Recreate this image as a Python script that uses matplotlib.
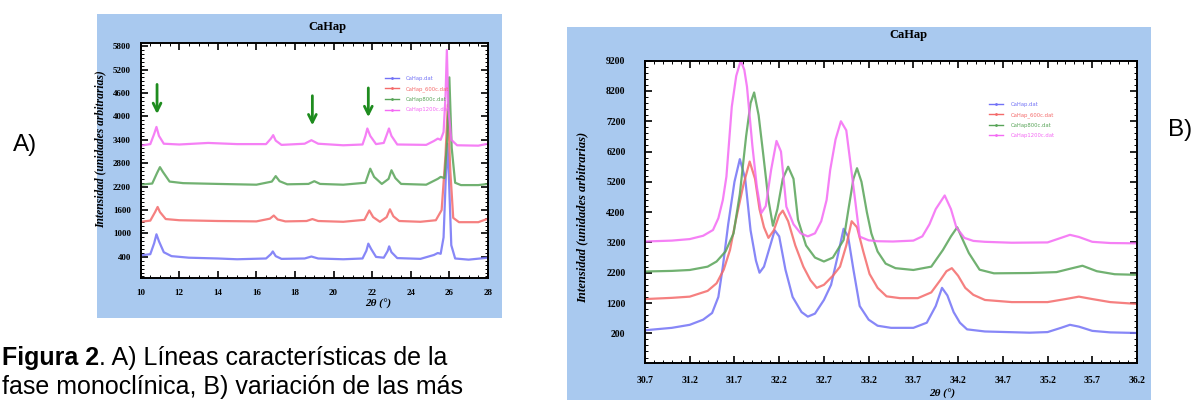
import numpy as np
import matplotlib.pyplot as plt
from matplotlib.patches import Rectangle
from matplotlib.lines import Line2D
from matplotlib.ticker import MultipleLocator, FixedLocator

plt.rcParams['font.family'] = 'serif'
plt.rcParams['font.serif'] = ['Liberation Serif', 'DejaVu Serif']

labels = ['CaHap.dat', 'CaHap_600c.dat', 'CaHap800c.dat', 'CaHap1200c.dat']
colors = ['#7272f6', '#f46a6a', '#58a458', '#f46af4']

# ---- panel A : 10-28 deg, monoclinic lines
a_blue_x = [10.0, 10.5, 10.7, 10.82, 10.95, 11.2, 11.6, 12.5, 14, 15, 16.5, 16.75, 16.85, 17.0, 17.3,
            18.5, 18.85, 19.2, 20.5, 21.5, 21.7, 21.8, 21.95, 22.2, 22.6, 22.8, 22.88, 23.0, 23.3,
            24.5, 25.2, 25.4, 25.55, 25.7, 25.82, 25.9, 25.98, 26.1, 26.3, 27.0, 28.0]
a_blue_y = [440, 470, 750, 980, 800, 520, 420, 380, 360, 340, 360, 470, 540, 420, 350,
            360, 410, 360, 340, 360, 560, 740, 600, 400, 380, 550, 670, 520, 370,
            350, 450, 500, 480, 900, 2500, 3300, 2400, 700, 360, 330, 380]
a_red_x = [10, 10.5, 10.75, 10.88, 11.0, 11.3, 12, 14, 16, 16.7, 16.9, 17.1, 17.5, 18.6, 18.9, 19.2,
           20.5, 21.6, 21.85, 22.05, 22.4, 22.75, 22.92, 23.1, 23.4, 24.5, 25.3, 25.6, 25.8, 25.92,
           26.05, 26.2, 26.5, 27.5, 28.0]
a_red_y = [1300, 1330, 1550, 1680, 1550, 1370, 1340, 1320, 1310, 1380, 1460, 1360, 1310, 1320, 1370, 1320,
           1300, 1350, 1590, 1420, 1300, 1420, 1620, 1440, 1320, 1300, 1340, 1600, 3000, 4300,
           2600, 1400, 1290, 1290, 1380]
a_green_x = [10, 10.6, 10.85, 11.0, 11.15, 11.5, 12.2, 14, 16, 16.8, 17.0, 17.2, 17.6, 18.7, 19.0, 19.3,
             20.5, 21.65, 21.9, 22.1, 22.5, 22.85, 23.0, 23.2, 23.5, 24.8, 25.4, 25.55, 25.75, 25.9,
             26.0, 26.12, 26.3, 26.6, 27.5, 28.0]
a_green_y = [2250, 2280, 2550, 2700, 2580, 2330, 2290, 2270, 2250, 2330, 2470, 2340, 2260, 2270, 2340, 2270,
             2250, 2300, 2660, 2450, 2270, 2400, 2620, 2420, 2270, 2250, 2400, 2450, 2420, 3500,
             5000, 3200, 2300, 2240, 2240, 2270]
a_mag_x = [10, 10.5, 10.7, 10.82, 10.95, 11.2, 12, 13.5, 15, 16.5, 16.75, 16.87, 17.0, 17.3, 18.5, 18.85,
           19.2, 20.5, 21.5, 21.65, 21.75, 21.9, 22.2, 22.6, 22.77, 22.87, 23.0, 23.3, 24.8, 25.2,
           25.4, 25.55, 25.7, 25.8, 25.87, 25.95, 26.1, 26.4, 27.5, 28.0]
a_mag_y = [3250, 3290, 3550, 3730, 3500, 3300, 3280, 3320, 3290, 3290, 3430, 3520, 3380, 3270, 3300, 3390,
           3300, 3260, 3280, 3500, 3690, 3500, 3290, 3320, 3550, 3690, 3500, 3280, 3270, 3370,
           3430, 3400, 3600, 4500, 5700, 4200, 3400, 3260, 3250, 3300]

arrow_x = [10.85, 18.9, 21.8]
arrow_top = [4890, 4600, 4800]
arrow_tip = [3990, 3700, 3910]

# ---- panel B : 30.7-36.2 deg
b_blue_x = [30.7, 31.0, 31.2, 31.35, 31.45, 31.52, 31.57, 31.63, 31.7, 31.76, 31.82, 31.88, 31.94, 31.98,
            32.03, 32.1, 32.15, 32.2, 32.27, 32.35, 32.45, 32.52, 32.6, 32.7, 32.78, 32.85, 32.92, 32.97,
            33.03, 33.1, 33.2, 33.3, 33.45, 33.7, 33.85, 33.95, 34.02, 34.08, 34.15, 34.22, 34.3, 34.5,
            35.0, 35.2, 35.35, 35.45, 35.55, 35.7, 35.9, 36.2]
b_blue_y = [300, 380, 480, 650, 870, 1400, 2400, 3800, 5200, 5950, 5300, 3600, 2600, 2200,
            2400, 3100, 3600, 3400, 2300, 1400, 900, 750, 850, 1300, 1800, 2700, 3650, 3400,
            2300, 1100, 650, 450, 380, 380, 550, 1100, 1700, 1450, 900, 550, 330, 260,
            220, 240, 380, 480, 420, 280, 230, 210]
b_red_x = [30.7, 31.0, 31.2, 31.4, 31.5, 31.58, 31.65, 31.72, 31.8, 31.87, 31.93, 31.98, 32.03, 32.08,
           32.14, 32.2, 32.24, 32.3, 32.38, 32.47, 32.55, 32.62, 32.7, 32.8, 32.88, 32.95, 33.01, 33.07,
           33.14, 33.21, 33.3, 33.4, 33.55, 33.75, 33.9, 34.0, 34.07, 34.13, 34.2, 34.28, 34.37, 34.5,
           34.8, 35.2, 35.4, 35.55, 35.7, 35.9, 36.2]
b_red_y = [1330, 1370, 1410, 1600, 1850, 2300, 2950, 4000, 5100, 5870, 5300, 4300, 3700, 3350,
           3600, 4100, 4250, 3900, 3100, 2400, 1950, 1700, 1800, 2100, 2400, 3100, 3900, 3700,
           2900, 2160, 1700, 1420, 1360, 1360, 1550, 1950, 2250, 2350, 2100, 1700, 1470, 1300,
           1230, 1230, 1330, 1410, 1330, 1230, 1170]
b_green_x = [30.7, 31.0, 31.2, 31.4, 31.5, 31.6, 31.69, 31.76, 31.83, 31.88, 31.92, 31.97, 32.02, 32.08,
             32.13, 32.18, 32.24, 32.3, 32.36, 32.41, 32.5, 32.6, 32.7, 32.8, 32.92, 32.98, 33.03, 33.07,
             33.12, 33.18, 33.23, 33.3, 33.39, 33.5, 33.7, 33.9, 34.03, 34.12, 34.19, 34.25, 34.32, 34.44,
             34.6, 35.0, 35.3, 35.45, 35.59, 35.75, 35.95, 36.2]
b_green_y = [2240, 2260, 2290, 2400, 2570, 2900, 3500, 4800, 6700, 7800, 8150, 7400, 6150, 4600,
             3750, 4300, 5300, 5700, 5300, 3950, 3100, 2700, 2570, 2700, 3280, 4400, 5300, 5650,
             5200, 4200, 3500, 2900, 2500, 2350, 2290, 2400, 2950, 3400, 3700, 3300, 2850, 2300,
             2180, 2190, 2220, 2330, 2430, 2250, 2150, 2130]
b_mag_x = [30.7, 31.0, 31.2, 31.35, 31.46, 31.52, 31.57, 31.61, 31.67, 31.72, 31.77, 31.81, 31.84, 31.9,
           31.95, 32.0, 32.05, 32.11, 32.17, 32.22, 32.28, 32.36, 32.44, 32.52, 32.6, 32.67, 32.73, 32.77,
           32.83, 32.89, 32.95, 33.03, 33.1, 33.2, 33.3, 33.47, 33.7, 33.8, 33.88, 33.95, 34.05, 34.12,
           34.18, 34.27, 34.37, 34.5, 34.8, 35.2, 35.35, 35.45, 35.55, 35.7, 35.9, 36.2]
b_mag_y = [3230, 3260, 3310, 3420, 3610, 4000, 4600, 5370, 7680, 8700, 9200, 8900, 8340, 6400,
           5040, 4170, 4400, 5600, 6550, 6200, 4380, 3800, 3500, 3400, 3500, 3900, 4600, 5590,
           6600, 7200, 6900, 5040, 3390, 3270, 3240, 3230, 3260, 3400, 3800, 4300, 4750, 4300,
           3700, 3350, 3250, 3220, 3190, 3200, 3350, 3450, 3380, 3220, 3180, 3170]

a_series = [(a_blue_x, a_blue_y), (a_red_x, a_red_y), (a_green_x, a_green_y), (a_mag_x, a_mag_y)]
b_series = [(b_blue_x, b_blue_y), (b_red_x, b_red_y), (b_green_x, b_green_y), (b_mag_x, b_mag_y)]

fig = plt.figure(figsize=(11.98, 4.0), dpi=100)
bg = '#a9c9ef'
fig.add_artist(Rectangle((0.081, 0.205), 0.338, 0.76, transform=fig.transFigure,
                         facecolor=bg, edgecolor='none', zorder=-1))
fig.add_artist(Rectangle((0.4733, -0.01), 0.4875, 0.9425, transform=fig.transFigure,
                         facecolor=bg, edgecolor='none', zorder=-1))

axA = fig.add_axes([0.1174, 0.305, 0.2899, 0.5875])
axB = fig.add_axes([0.5384, 0.0918, 0.4107, 0.7565])


def style(ax, size, xpad, ypad):
    for sp in ax.spines.values():
        sp.set_linewidth(1.4)
    ax.tick_params(which='both', direction='in', top=True, right=True)
    ax.tick_params(which='major', length=5, width=1.2, labelsize=size)
    ax.tick_params(which='minor', length=2.5, width=0.7)
    ax.tick_params(axis='x', pad=xpad)
    ax.tick_params(axis='y', pad=ypad)
    for lbl in ax.get_xticklabels() + ax.get_yticklabels():
        lbl.set_fontweight('bold')


for (x, y), c in zip(a_series, colors):
    axA.plot(x, y, color=c, lw=1.6, alpha=0.85)
axA.set_xlim(10, 28)
axA.set_ylim(-140, 5880)
axA.xaxis.set_major_locator(MultipleLocator(2))
axA.xaxis.set_minor_locator(MultipleLocator(0.5))
axA.yaxis.set_major_locator(FixedLocator(np.arange(400, 5801, 600)))
axA.yaxis.set_minor_locator(MultipleLocator(100))
style(axA, 6.5, 8, 7)

for x0, y0, y1 in zip(arrow_x, arrow_top, arrow_tip):
    axA.annotate('', xy=(x0, y1), xytext=(x0, y0),
                 arrowprops=dict(arrowstyle='->', color='#1e8c1e', lw=2, mutation_scale=14))

for (x, y), c in zip(b_series, colors):
    axB.plot(x, y, color=c, lw=1.6, alpha=0.85)
axB.set_xlim(30.7, 36.2)
axB.set_ylim(-790, 9200)
axB.xaxis.set_major_locator(FixedLocator(np.arange(30.7, 36.21, 0.5)))
axB.xaxis.set_minor_locator(MultipleLocator(0.1))
axB.yaxis.set_major_locator(FixedLocator(np.arange(200, 9201, 1000)))
axB.yaxis.set_minor_locator(MultipleLocator(200))
axB.set_xticklabels([f'{v:.1f}' for v in np.arange(30.7, 36.21, 0.5)])
style(axB, 7, 9, 14)

handles = [Line2D([], [], color=c, lw=1, marker='.', markersize=2) for c in colors]
for ax, anchor in ((axA, (0.69, 0.88)), (axB, (0.69, 0.88))):
    ax.legend(handles, labels, loc='upper left', bbox_to_anchor=anchor,
              frameon=False, labelcolor='linecolor', handlelength=2.6, labelspacing=1.0,
              handletextpad=1.4, prop={'family': 'DejaVu Sans', 'size': 3.8})

W, H = 1198, 400
tkw = dict(fontweight='bold', ha='center', va='center')
fig.text(327 / W, 1 - 27 / H, 'CaHap', fontsize=9, **tkw)
fig.text(908 / W, 1 - 35 / H, 'CaHap', fontsize=9, **tkw)
fig.text(378 / W, 1 - 304 / H, '2θ (°)', fontsize=8, style='italic', **tkw)
fig.text(942 / W, 1 - 394 / H, '2θ (°)', fontsize=8, style='italic', **tkw)
fig.text(100 / W, 1 - 149 / H, 'Intensidad (unidades arbitrarias)', fontsize=8.3,
         style='italic', rotation=90, **tkw)
fig.text(582 / W, 1 - 217 / H, 'Intensidad (unidades arbitrarias)', fontsize=9,
         style='italic', rotation=90, **tkw)

sans = 'Liberation Sans'
cap = 18
fig.text(25 / W, 1 - 145 / H, 'A)', fontsize=17.5, family=sans, ha='center', va='center')
fig.text(1180 / W, 1 - 130 / H, 'B)', fontsize=17.5, family=sans, ha='center', va='center')

bold1 = fig.text(2 / W, 1 - 365 / H, 'Figura 2', fontsize=cap, family=sans, fontweight='bold',
                 ha='left', va='baseline')
fig.canvas.draw()
bb = bold1.get_window_extent()
fig.text(bb.x1 / W, 1 - 365 / H, '. A) Líneas características de la', fontsize=cap,
         family=sans, ha='left', va='baseline')
fig.text(2 / W, 1 - 394 / H, 'fase monoclínica, B) variación de las más', fontsize=cap,
         family=sans, ha='left', va='baseline')

fig.savefig('out.png', dpi=100)
